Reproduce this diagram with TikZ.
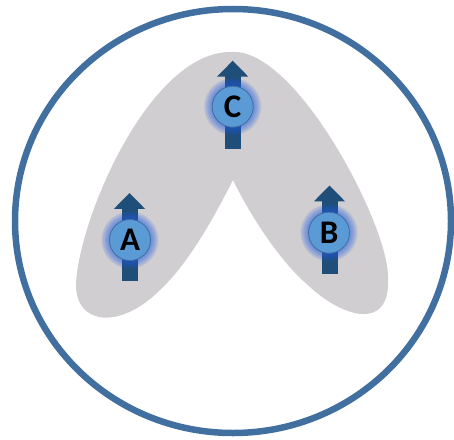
\documentclass[tikz,border=0pt]{standalone}
\usepackage{fontspec}
\setmainfont{Carlito}
\definecolor{ring}{RGB}{65,112,160}
\definecolor{blob}{RGB}{208,206,208}
\definecolor{arrowblue}{RGB}{31,78,121}
\definecolor{glowblue}{RGB}{30,90,230}
\definecolor{ballfill}{RGB}{91,155,213}
\definecolor{balledge}{RGB}{62,110,158}
\tikzset{
  ball/.style={circle, fill=ballfill, draw=balledge, line width=0.8pt,
    minimum size=41pt, inner sep=0pt,
    font=\bfseries\fontsize{33}{33}\selectfont},
  pics/spinarrow/.style={code={
    \fill[arrowblue] (-8,15) rectangle (8,88);
    \fill[arrowblue] (-15.5,15.8) -- (0,0) -- (15.5,15.8) -- cycle;
  }},
  glowing/.style={glowblue, opacity=0.13}
}
\begin{document}
\begin{tikzpicture}[x=1pt, y=-1pt]
\useasboundingbox (0,0) rectangle (454,439);
% ring
\draw[ring, line width=6.5pt] (233,221) ellipse [x radius=218pt, y radius=212pt];
% gray blob
\fill[blob] (232,52) .. controls (150,50) and (78,220) .. (76,285)
  .. controls (76,325) and (120,330) .. (160,290)
  .. controls (190,262) and (215,215) .. (233,180)
  .. controls (250,215) and (280,262) .. (310,287)
  .. controls (340,315) and (392,335) .. (388,275)
  .. controls (386,220) and (295,48) .. (232,52) -- cycle;
% spin positions
\coordinate (pA) at (130,240);
\coordinate (pB) at (329,232.7);
\coordinate (pC) at (232.7,106.7);
% arrows
\pic at (129.5,193) {spinarrow};
\pic at (329.5,185.5) {spinarrow};
\pic at (232.7,60.7) {spinarrow};
% glows
\foreach \p in {pA,pB,pC}{
  \foreach \r in {21,22.5,24,25.5,27,28.5}{
    \fill[glowing] (\p) circle [radius=\r pt];
  }
}
% balls
\node[ball] (A) at (pA) {A};
\node[ball] (B) at (pB) {B};
\node[ball] (C) at (pC) {C};
\end{tikzpicture}
\end{document}
